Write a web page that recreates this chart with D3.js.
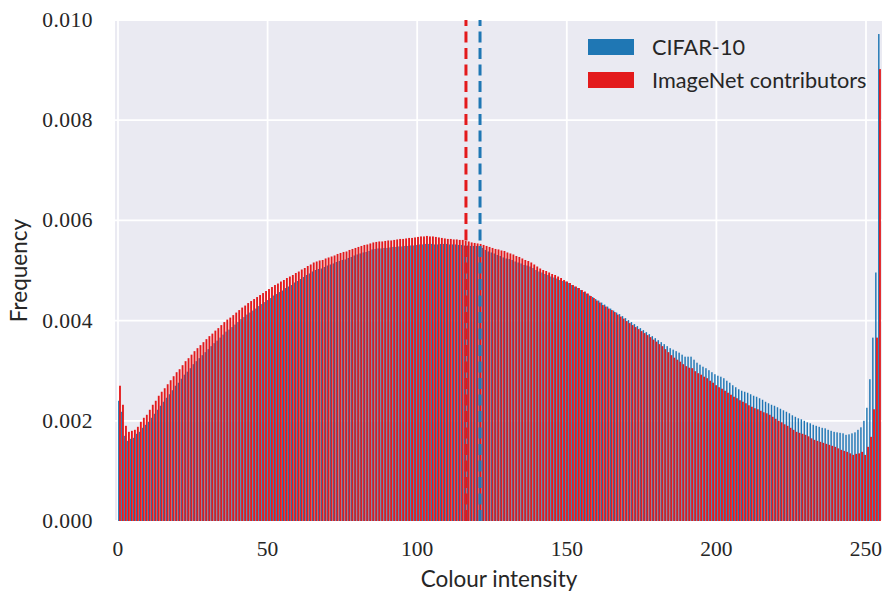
<!DOCTYPE html>
<html>
<head>
<meta charset="utf-8">
<script src="https://cdn.jsdelivr.net/npm/d3@7"></script>
<style>
body { margin: 0; background: #fff; }
svg { display: block; }
</style>
</head>
<body>
<svg width="885" height="594"></svg>
<script>
// histogram of pixel values, 256 bins over 0..255, normalised
var cifar = [
0.00240,0.00218,0.00170,0.00160,0.00164,0.00166,0.00174,0.00178,0.00186,0.00192,
0.00198,0.00206,0.00214,0.00222,0.00230,0.00238,0.00246,0.00253,0.00261,0.00270,
0.00276,0.00284,0.00292,0.00298,0.00305,0.00313,0.00319,0.00325,0.00331,0.00337,
0.00343,0.00349,0.00355,0.00360,0.00366,0.00372,0.00378,0.00382,0.00387,0.00392,
0.00397,0.00403,0.00407,0.00412,0.00416,0.00420,0.00424,0.00429,0.00433,0.00437,
0.00441,0.00445,0.00450,0.00453,0.00457,0.00460,0.00465,0.00468,0.00471,0.00476,
0.00479,0.00483,0.00487,0.00491,0.00494,0.00498,0.00501,0.00503,0.00504,0.00507,
0.00510,0.00512,0.00514,0.00517,0.00519,0.00521,0.00522,0.00525,0.00527,0.00530,
0.00532,0.00534,0.00536,0.00537,0.00539,0.00542,0.00543,0.00544,0.00544,0.00545,
0.00545,0.00546,0.00547,0.00547,0.00548,0.00548,0.00549,0.00549,0.00550,0.00550,
0.00551,0.00552,0.00552,0.00553,0.00553,0.00553,0.00552,0.00552,0.00553,0.00553,
0.00553,0.00552,0.00552,0.00552,0.00551,0.00551,0.00550,0.00550,0.00549,0.00549,
0.00549,0.00548,0.00545,0.00541,0.00538,0.00536,0.00534,0.00531,0.00529,0.00526,
0.00524,0.00523,0.00521,0.00518,0.00516,0.00514,0.00511,0.00510,0.00508,0.00505,
0.00501,0.00498,0.00496,0.00493,0.00491,0.00488,0.00486,0.00484,0.00481,0.00479,
0.00478,0.00475,0.00471,0.00468,0.00465,0.00461,0.00457,0.00454,0.00450,0.00447,
0.00443,0.00440,0.00436,0.00432,0.00428,0.00424,0.00420,0.00416,0.00413,0.00409,
0.00405,0.00401,0.00397,0.00393,0.00389,0.00385,0.00381,0.00377,0.00373,0.00369,
0.00365,0.00361,0.00357,0.00353,0.00349,0.00345,0.00342,0.00339,0.00336,0.00332,
0.00328,0.00328,0.00328,0.00322,0.00316,0.00312,0.00308,0.00305,0.00301,0.00297,
0.00293,0.00290,0.00288,0.00285,0.00280,0.00276,0.00271,0.00267,0.00263,0.00260,
0.00258,0.00256,0.00253,0.00250,0.00248,0.00245,0.00242,0.00238,0.00235,0.00232,
0.00230,0.00227,0.00224,0.00221,0.00218,0.00215,0.00211,0.00208,0.00205,0.00203,
0.00200,0.00197,0.00195,0.00192,0.00190,0.00188,0.00186,0.00185,0.00182,0.00180,
0.00178,0.00177,0.00176,0.00175,0.00172,0.00173,0.00175,0.00177,0.00182,0.00187,
0.00200,0.00226,0.00283,0.00366,0.00496,0.00972
];
var imagenet = [
0.00270,0.00232,0.00190,0.00178,0.00180,0.00182,0.00188,0.00198,0.00206,0.00212,
0.00222,0.00232,0.00240,0.00250,0.00258,0.00265,0.00273,0.00281,0.00289,0.00297,
0.00303,0.00311,0.00319,0.00325,0.00332,0.00339,0.00345,0.00351,0.00357,0.00363,
0.00369,0.00374,0.00380,0.00385,0.00391,0.00397,0.00402,0.00406,0.00411,0.00416,
0.00421,0.00426,0.00430,0.00435,0.00439,0.00443,0.00447,0.00451,0.00455,0.00459,
0.00463,0.00467,0.00471,0.00474,0.00478,0.00481,0.00485,0.00488,0.00491,0.00495,
0.00498,0.00502,0.00505,0.00509,0.00512,0.00516,0.00518,0.00520,0.00521,0.00524,
0.00526,0.00528,0.00530,0.00533,0.00535,0.00537,0.00538,0.00541,0.00543,0.00545,
0.00547,0.00549,0.00551,0.00552,0.00554,0.00556,0.00557,0.00558,0.00558,0.00559,
0.00560,0.00560,0.00561,0.00562,0.00563,0.00563,0.00564,0.00565,0.00565,0.00566,
0.00567,0.00568,0.00568,0.00569,0.00568,0.00568,0.00567,0.00566,0.00565,0.00564,
0.00563,0.00563,0.00562,0.00562,0.00561,0.00561,0.00559,0.00558,0.00556,0.00555,
0.00554,0.00553,0.00551,0.00549,0.00547,0.00545,0.00543,0.00542,0.00540,0.00539,
0.00536,0.00534,0.00532,0.00529,0.00527,0.00524,0.00521,0.00519,0.00516,0.00512,
0.00508,0.00504,0.00501,0.00499,0.00496,0.00493,0.00491,0.00488,0.00485,0.00481,
0.00478,0.00475,0.00471,0.00468,0.00465,0.00461,0.00458,0.00454,0.00449,0.00445,
0.00440,0.00436,0.00431,0.00428,0.00424,0.00421,0.00417,0.00412,0.00408,0.00404,
0.00399,0.00395,0.00391,0.00387,0.00383,0.00379,0.00375,0.00371,0.00367,0.00362,
0.00358,0.00353,0.00349,0.00343,0.00337,0.00331,0.00326,0.00322,0.00318,0.00313,
0.00309,0.00306,0.00305,0.00299,0.00295,0.00292,0.00288,0.00285,0.00280,0.00276,
0.00271,0.00267,0.00264,0.00260,0.00256,0.00252,0.00248,0.00245,0.00241,0.00238,
0.00235,0.00231,0.00228,0.00225,0.00223,0.00220,0.00217,0.00215,0.00212,0.00208,
0.00204,0.00200,0.00197,0.00193,0.00190,0.00186,0.00182,0.00178,0.00176,0.00174,
0.00172,0.00169,0.00165,0.00162,0.00160,0.00158,0.00156,0.00154,0.00152,0.00150,
0.00148,0.00145,0.00142,0.00140,0.00138,0.00135,0.00132,0.00134,0.00135,0.00138,
0.00132,0.00148,0.00168,0.00223,0.00366,0.00902
];
var means = [121.0, 116.3]; // cifar, imagenet
var names = ["CIFAR-10", "ImageNet contributors"];
var colors = ["#1f77b4", "#e31a1c"];
var xTicks = [0, 50, 100, 150, 200, 250];
var yTicks = [0, 0.002, 0.004, 0.006, 0.008, 0.010];

var svg = d3.select("svg");
var pLeft = 115, pRight = 882, pTop = 20, pBottom = 521;
var binW = 255 / 256;

var x = d3.scaleLinear().domain([-1, 255.35]).range([pLeft, pRight]);
var y = d3.scaleLinear().domain([0, 0.01]).range([pBottom, pTop]);

svg.append("rect")
  .attr("x", pLeft).attr("y", pTop)
  .attr("width", pRight - pLeft).attr("height", pBottom - pTop)
  .attr("fill", "#eaeaf2");

// grid
var g = svg.append("g");
g.selectAll(".vg").data(xTicks).enter().append("line")
  .attr("x1", function (d) { return x(d); }).attr("x2", function (d) { return x(d); })
  .attr("y1", pTop).attr("y2", pBottom)
  .attr("stroke", "#fff").attr("stroke-width", 1.8);
g.selectAll(".hg").data(yTicks).enter().append("line")
  .attr("x1", pLeft).attr("x2", pRight)
  .attr("y1", function (d) { return y(d); }).attr("y2", function (d) { return y(d); })
  .attr("stroke", "#fff").attr("stroke-width", 1.8);

// bars: blue left part of bin, red right part drawn on top
var series = [cifar, imagenet];
var offs = [[0.04, 0.52], [0.36, 0.98]];
series.forEach(function (vals, s) {
  svg.append("g").selectAll("rect")
    .data(vals).enter().append("rect")
    .attr("x", function (d, i) { return x((i + offs[s][0]) * binW); })
    .attr("width", function (d, i) { return x((i + offs[s][1]) * binW) - x((i + offs[s][0]) * binW); })
    .attr("y", function (d) { return y(d); })
    .attr("height", function (d) { return pBottom - y(d); })
    .attr("fill", colors[s]);
});

// mean lines
[1, 0].forEach(function (s) {
  svg.append("line")
    .attr("x1", x(means[s])).attr("x2", x(means[s]))
    .attr("y1", pBottom).attr("y2", pTop)
    .attr("stroke", colors[s]).attr("stroke-width", 3)
    .attr("stroke-dasharray", "11,5.5");
});

// axes labels
var serif = "'Liberation Serif', serif";
var sans = "Lato, sans-serif";
svg.append("g").selectAll("text").data(xTicks).enter().append("text")
  .attr("x", function (d) { return x(d); }).attr("y", 556)
  .attr("text-anchor", "middle")
  .style("font-family", serif).style("font-size", "21.5px").attr("fill", "#262626")
  .text(function (d) { return d; });
svg.append("g").selectAll("text").data(yTicks).enter().append("text")
  .attr("x", 93).attr("y", function (d) { return y(d) + 7; })
  .attr("text-anchor", "end")
  .style("font-family", serif).style("font-size", "21.5px").attr("fill", "#262626")
  .style("letter-spacing", "0.5px")
  .text(function (d) { return d3.format(".3f")(d); });

svg.append("text")
  .attr("x", 499).attr("y", 587)
  .attr("text-anchor", "middle")
  .style("font-family", sans).style("font-size", "22.5px").attr("fill", "#262626")
  .text("Colour intensity");
svg.append("text")
  .attr("transform", "translate(27," + ((pTop + pBottom) / 2) + ") rotate(-90)")
  .attr("text-anchor", "middle")
  .style("font-family", sans).style("font-size", "22.5px").attr("fill", "#262626")
  .text("Frequency");

// legend
var lg = svg.append("g").selectAll("g").data(names).enter().append("g")
  .attr("transform", function (d, i) { return "translate(588," + (39 + i * 33) + ")"; });
lg.append("rect").attr("width", 46).attr("height", 16)
  .attr("fill", function (d, i) { return colors[i]; });
lg.append("text").attr("x", 64).attr("y", 16)
  .style("font-family", sans).style("font-size", "21.7px").attr("fill", "#262626")
  .text(function (d) { return d; });
</script>
</body>
</html>
